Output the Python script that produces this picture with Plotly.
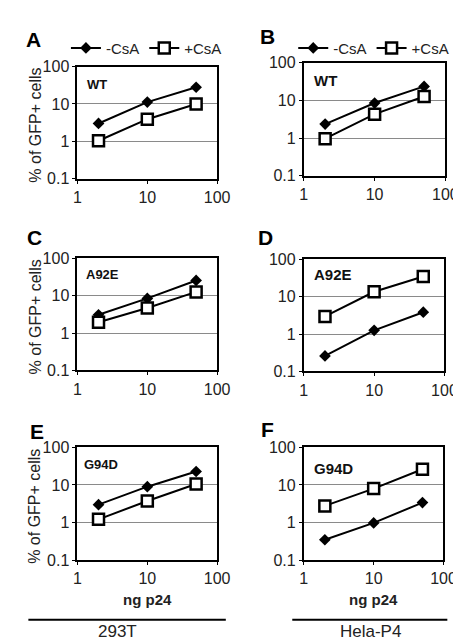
import plotly.graph_objects as go

W, H = 461, 644
doses = [2, 10, 50]
panels = ["A", "B", "C", "D", "E", "F"]
mutants = ["WT", "WT", "A92E", "A92E", "G94D", "G94D"]
minus_csa = {
    "A": [3.0, 11.2, 28.0],
    "B": [2.35, 8.5, 23.5],
    "C": [3.1, 8.5, 25.7],
    "D": [0.26, 1.26, 3.85],
    "E": [3.0, 9.0, 22.8],
    "F": [0.35, 0.98, 3.4],
}
plus_csa = {
    "A": [1.03, 3.9, 10.0],
    "B": [0.96, 4.3, 12.7],
    "C": [1.94, 4.7, 12.7],
    "D": [2.97, 13.6, 35.0],
    "E": [1.22, 3.75, 10.6],
    "F": [2.78, 8.0, 26.2],
}
series_names = ["-CsA", "+CsA"]
x_ticks = [1, 10, 100]
y_ticks = [0.1, 1, 10, 100]
cell_lines = ["293T", "Hela-P4"]
x_title = "ng p24"
y_title = "% of GFP+ cells"

FONT = "Arial, Liberation Sans, sans-serif"

# pixel boxes (x0, x1, ytop, ybottom)
boxes = {
    "A": (68, 213, 52, 167),
    "B": (303, 450, 48, 164),
    "C": (68, 213, 249, 364),
    "D": (303, 449, 250, 365),
    "E": (68, 213, 443, 559),
    "F": (303, 448, 443, 559),
}

def px(x):
    return x / W

def py(y):
    return 1 - y / H

fig = go.Figure()
layout = {}
for i, p in enumerate(panels):
    n = i + 1
    xa = "x" if n == 1 else f"x{n}"
    ya = "y" if n == 1 else f"y{n}"
    x0, x1, yt, yb = boxes[p]
    leg = None
    if p == "A":
        leg = "legend"
    elif p == "B":
        leg = "legend2"
    fig.add_trace(go.Scatter(
        x=doses, y=minus_csa[p], mode="lines+markers", name=series_names[0],
        line=dict(color="black", width=2),
        marker=dict(symbol="diamond", size=9, color="black"),
        xaxis=xa, yaxis=ya, showlegend=leg is not None, legend=leg or "legend"))
    fig.add_trace(go.Scatter(
        x=doses, y=plus_csa[p], mode="lines+markers", name=series_names[1],
        line=dict(color="black", width=2),
        marker=dict(symbol="square", size=11, color="white",
                    line=dict(color="black", width=2.5)),
        xaxis=xa, yaxis=ya, showlegend=leg is not None, legend=leg or "legend"))
    axx = dict(type="log", range=[0, 2], domain=[px(x0), px(x1)],
               anchor=ya, tickvals=x_ticks, ticktext=[str(v) for v in x_ticks],
               showline=True, mirror=True, linecolor="black", linewidth=2,
               ticks="outside", ticklen=3, tickcolor="black", showgrid=False,
               zeroline=False, tickfont=dict(size=16, color="#222", family=FONT))
    axy = dict(type="log", range=[-1, 2], domain=[py(yb), py(yt)],
               anchor=xa, tickvals=y_ticks, ticktext=["0.1", "1", "10", "100"],
               showline=True, mirror=True, linecolor="black", linewidth=2,
               ticks="outside", ticklen=3, tickcolor="black", showgrid=True,
               gridcolor="#8a8a8a", gridwidth=1.2, zeroline=False,
               tickfont=dict(size=16, color="#222", family=FONT))
    layout["xaxis" if n == 1 else f"xaxis{n}"] = axx
    layout["yaxis" if n == 1 else f"yaxis{n}"] = axy

fig.update_layout(**layout)

annotations = []
letter_pos = {"A": (12, 24), "B": (255, 21), "C": (13, 227), "D": (253, 228),
              "E": (17, 427), "F": (256, 425)}
for p in panels:
    lx, ly = letter_pos[p]
    annotations.append(dict(text=f"<b>{p}</b>", x=px(lx), y=py(ly), xref="paper", yref="paper",
                            xanchor="left", yanchor="middle", showarrow=False,
                            font=dict(size=21, color="black", family=FONT)))
mut_pos = {"A": (76, 70, 13), "B": (311, 66, 15), "C": (75, 266, 13), "D": (312, 266, 15),
           "E": (73, 461, 13), "F": (311, 465, 15)}
for p, m in zip(panels, mutants):
    mx, my, fs = mut_pos[p]
    annotations.append(dict(text=f"<b>{m}</b>", x=px(mx), y=py(my), xref="paper", yref="paper",
                            xanchor="left", yanchor="middle", showarrow=False,
                            font=dict(size=fs, color="#111", family=FONT)))
for p in ("A", "C", "E"):
    x0, x1, yt, yb = boxes[p]
    annotations.append(dict(text=y_title, x=px(24), y=py((yt + yb) / 2 + 3), xref="paper", yref="paper",
                            textangle=-90, showarrow=False, xanchor="center", yanchor="middle",
                            font=dict(size=16, color="#222", family=FONT)))
for p in ("E", "F"):
    x0, x1, yt, yb = boxes[p]
    annotations.append(dict(text=f"<b>{x_title}</b>", x=px((x0 + x1) / 2), y=py(599), xref="paper",
                            yref="paper", showarrow=False, xanchor="center", yanchor="middle",
                            font=dict(size=15, color="#222", family=FONT)))
annotations.append(dict(text=cell_lines[0], x=px(110), y=0, xref="paper", yref="paper",
                        showarrow=False, xanchor="center", yanchor="bottom",
                        font=dict(size=17, color="#222", family=FONT)))
annotations.append(dict(text=cell_lines[1], x=px(372), y=0, xref="paper", yref="paper",
                        showarrow=False, xanchor="center", yanchor="bottom",
                        font=dict(size=17, color="#222", family=FONT)))

shapes = [
    dict(type="line", xref="paper", yref="paper", x0=px(17), x1=px(222), y0=py(620), y1=py(620),
         line=dict(color="black", width=2)),
    dict(type="line", xref="paper", yref="paper", x0=px(291), x1=px(452), y0=py(620), y1=py(620),
         line=dict(color="black", width=2)),
]

leg_common = dict(orientation="h", xanchor="left", yanchor="middle", bgcolor="rgba(0,0,0,0)",
                  font=dict(size=15, color="#222", family=FONT), itemwidth=30,
                  tracegroupgap=0, traceorder="normal")
fig.update_layout(
    width=W, height=H, margin=dict(l=0, r=0, t=0, b=0),
    paper_bgcolor="white", plot_bgcolor="white",
    annotations=annotations, shapes=shapes,
    legend=dict(x=px(56), y=py(33), **leg_common),
    legend2=dict(x=px(292), y=py(33), **leg_common),
    font=dict(family=FONT),
)

fig.write_html("out.html")
